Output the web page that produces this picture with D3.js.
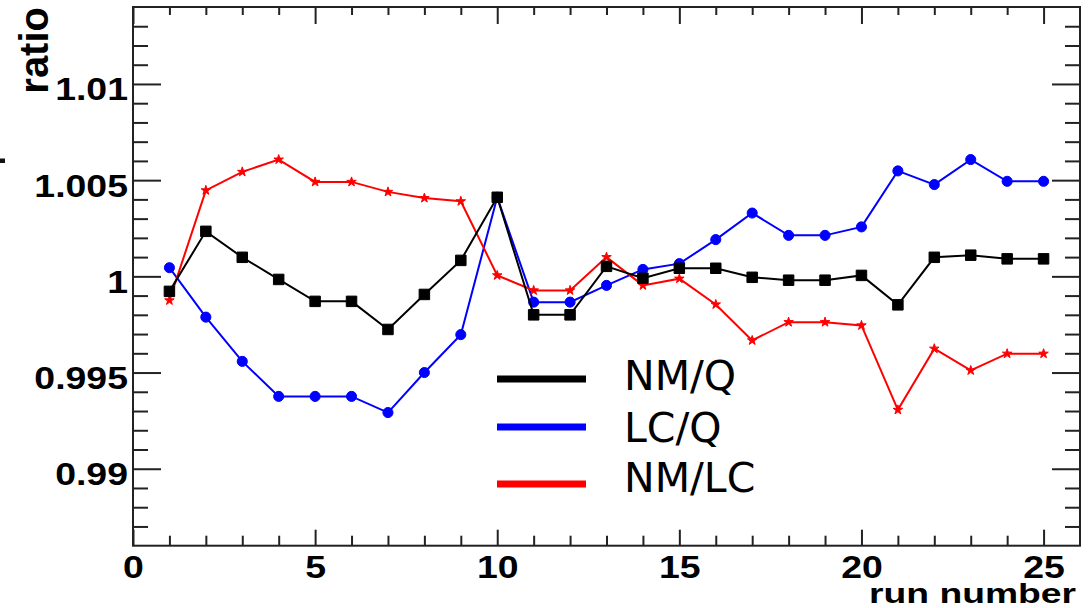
<!DOCTYPE html>
<html>
<head>
<meta charset="utf-8">
<script src="https://cdn.jsdelivr.net/npm/d3@7"></script>
<style>
  html, body { margin: 0; padding: 0; background: #fff; }
  svg { display: block; }
</style>
</head>
<body>
<svg id="chart" width="1089" height="608"></svg>
<script>
// ---- data ----
const runs = [1,2,3,4,5,6,7,8,9,10,11,12,13,14,15,16,17,18,19,20,21,22,23,24,25];
const nmQ  = [0.99922,1.00234,1.00099,0.99984,0.99870,0.99870,0.99724,0.99906,1.00083,1.00411,
              0.99800,0.99800,1.00052,0.99990,1.00042,1.00042,0.99995,0.99980,0.99980,1.00005,
              0.99852,1.00099,1.00110,1.00091,1.00091];
const lcQ  = [1.00045,0.99788,0.99558,0.99376,0.99376,0.99376,0.99292,0.99500,0.99697,1.00411,
              0.99866,0.99866,0.99953,1.00036,1.00066,1.00191,1.00329,1.00213,1.00213,1.00257,
              1.00548,1.00477,1.00607,1.00494,1.00494];
const nmLC = [0.99875,1.00447,1.00543,1.00607,1.00491,1.00491,1.00439,1.00407,1.00390,1.00005,
              0.99927,0.99927,1.00100,0.99953,0.99988,0.99854,0.99667,0.99762,0.99762,0.99745,
              0.99306,0.99624,0.99511,0.99598,0.99598];
const seriesNames = ["NM/Q", "LC/Q", "NM/LC"];
const xMajorTicks = [0,5,10,15,20,25];
const xMinorTicks = [1,2,3,4,6,7,8,9,11,12,13,14,16,17,18,19,21,22,23,24];
const yMajorTicks = [0.99,0.995,1,1.005,1.01];
const yMinorTicks = [0.987,0.988,0.989,0.991,0.992,0.993,0.994,0.996,0.997,0.998,0.999,
                     1.001,1.002,1.003,1.004,1.006,1.007,1.008,1.009,1.011,1.012,1.013];
const yTickLabels = ["0.99","0.995","1","1.005","1.01"];
const xTitle = "run number";
const yTitle = "ratio";

// ---- layout ----
const svg = d3.select("#chart");
const L = 133, R = 1080, T = 7, B = 545.7;
const x = d3.scaleLinear().domain([0, 26]).range([L, R]);
const y = d3.scaleLinear().domain([0.986, 1.014]).range([B, T]);
const axisColor = "#222";
const labelFont = "'Liberation Sans', Arial, Helvetica, sans-serif";
const stretch = 1.17;

function styleAxis(g) {
  g.select(".domain").remove();
  g.selectAll(".tick line").attr("stroke", axisColor).attr("stroke-width", 2);
}

// Bottom axis (major with labels)
const gxB = svg.append("g").attr("transform", `translate(0,${B})`)
  .call(d3.axisBottom(x).tickValues(xMajorTicks).tickSize(-16).tickPadding(9.5).tickFormat(d3.format("d")));
styleAxis(gxB);
gxB.selectAll(".tick text")
  .attr("font-family", labelFont).attr("font-weight", "bold").attr("font-size", 32)
  .attr("fill", "#000").attr("transform", `scale(${stretch},1)`);
svg.append("g").attr("transform", `translate(0,${B})`)
  .call(d3.axisBottom(x).tickValues(xMinorTicks).tickSize(-10).tickFormat(""))
  .call(styleAxis);

// Top axis
svg.append("g").attr("transform", `translate(0,${T})`)
  .call(d3.axisTop(x).tickValues(xMajorTicks).tickSize(-17).tickFormat(""))
  .call(styleAxis);
svg.append("g").attr("transform", `translate(0,${T})`)
  .call(d3.axisTop(x).tickValues(xMinorTicks).tickSize(-8).tickFormat(""))
  .call(styleAxis);

// Left axis
const gyL = svg.append("g").attr("transform", `translate(${L},0)`)
  .call(d3.axisLeft(y).tickValues(yMajorTicks).tickSize(-28).tickPadding(4.3)
        .tickFormat((d, i) => yTickLabels[i]));
styleAxis(gyL);
gyL.selectAll(".tick text")
  .attr("font-family", labelFont).attr("font-weight", "bold").attr("font-size", 32)
  .attr("fill", "#000").attr("dy", "0.5em").attr("transform", `scale(${stretch},1)`);
svg.append("g").attr("transform", `translate(${L},0)`)
  .call(d3.axisLeft(y).tickValues(yMinorTicks).tickSize(-15).tickFormat(""))
  .call(styleAxis);

// Right axis
svg.append("g").attr("transform", `translate(${R},0)`)
  .call(d3.axisRight(y).tickValues(yMajorTicks).tickSize(-28).tickFormat(""))
  .call(styleAxis);
svg.append("g").attr("transform", `translate(${R},0)`)
  .call(d3.axisRight(y).tickValues(yMinorTicks).tickSize(-15).tickFormat(""))
  .call(styleAxis);

// Frame
svg.append("rect").attr("x", L).attr("y", T).attr("width", R - L).attr("height", B - T)
  .attr("fill", "none").attr("stroke", axisColor).attr("stroke-width", 2);

// Axis titles
svg.append("text").text(xTitle)
  .attr("font-family", labelFont).attr("font-weight", "bold").attr("font-size", 27)
  .attr("text-anchor", "end").attr("fill", "#000")
  .attr("transform", `translate(1076,603) scale(1.38,1)`);
svg.append("text").text(yTitle)
  .attr("font-family", labelFont).attr("font-weight", "bold").attr("font-size", 40)
  .attr("text-anchor", "end").attr("fill", "#000")
  .attr("transform", `translate(48,7) rotate(-90)`);

// small stray mark at the left edge (cropped glyph in the original)
svg.append("rect").attr("x", 0).attr("y", 158.5).attr("width", 5).attr("height", 4.5).attr("fill", "#111");

// ---- series ----
const line = d3.line().x(d => x(d[0])).y(d => y(d[1]));
const series = [
  { name: seriesNames[1], values: lcQ,  color: "#0000ff", symbol: d3.symbolCircle, size: 80 },
  { name: seriesNames[2], values: nmLC, color: "#ff0000", symbol: d3.symbolStar,   size: 28 },
  { name: seriesNames[0], values: nmQ,  color: "#000000", symbol: d3.symbolSquare, size: 110 }
];
series.forEach(s => {
  const pts = runs.map((r, i) => [r, s.values[i]]);
  svg.append("path").datum(pts).attr("d", line)
    .attr("fill", "none").attr("stroke", s.color).attr("stroke-width", 2);
  svg.append("g").selectAll("path").data(pts).join("path")
    .attr("transform", d => `translate(${x(d[0])},${y(d[1])})`)
    .attr("d", d3.symbol().type(s.symbol).size(s.size))
    .attr("fill", s.color).attr("stroke", s.color).attr("stroke-width", 1);
});

// ---- legend ----
const legend = [
  { name: seriesNames[0], color: "#000000", ly: 379, ty: 390 },
  { name: seriesNames[1], color: "#0000ff", ly: 427, ty: 441.5 },
  { name: seriesNames[2], color: "#ff0000", ly: 484, ty: 491.5 }
];
const lg = svg.append("g");
legend.forEach(e => {
  lg.append("line").attr("x1", 497).attr("x2", 586).attr("y1", e.ly).attr("y2", e.ly)
    .attr("stroke", e.color).attr("stroke-width", 7);
  lg.append("text").text(e.name).attr("x", 624).attr("y", e.ty)
    .attr("font-family", "'DejaVu Sans', Verdana, sans-serif").attr("font-size", 41)
    .attr("fill", "#000");
});
</script>
</body>
</html>
